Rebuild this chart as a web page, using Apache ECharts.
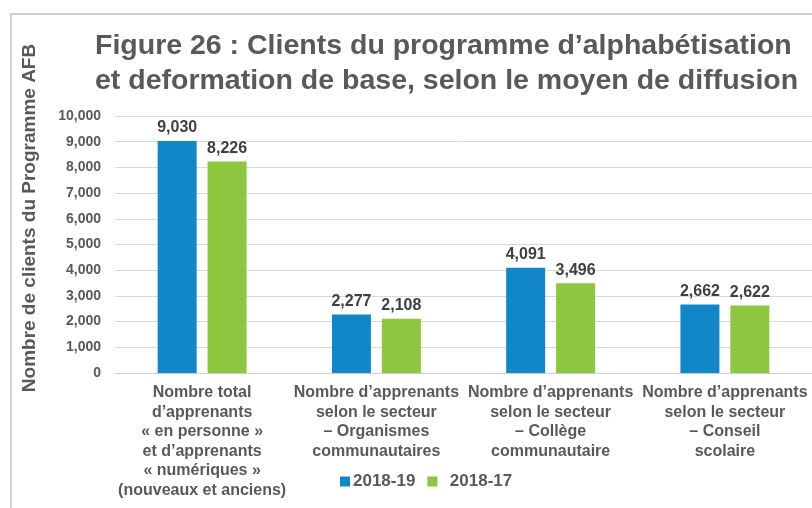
<!DOCTYPE html>
<html>
<head>
<meta charset="utf-8">
<script src="https://cdn.jsdelivr.net/npm/echarts@6/dist/echarts.min.js"></script>
<style>
  html, body { margin: 0; padding: 0; background: #fff; }
  #chart { width: 812px; height: 508px; }
</style>
</head>
<body>
<div id="chart"></div>
<script>
// données
var categories = [
  "Nombre total\nd’apprenants\n« en personne »\net d’apprenants\n« numériques »\n(nouveaux et anciens)",
  "Nombre d’apprenants\nselon le secteur\n– Organismes\ncommunautaires",
  "Nombre d’apprenants\nselon le secteur\n– Collège\ncommunautaire",
  "Nombre d’apprenants\nselon le secteur\n– Conseil\nscolaire"
];
var seriesNames = ["2018-19", "2018-17"];
var values1819 = [9030, 2277, 4091, 2662];
var values1817 = [8226, 2108, 3496, 2622];
var colors = ["#1287c8", "#8dc63f"];

var titleLines = [
  "Figure 26 : Clients du programme d’alphabétisation",
  "et deformation de base, selon le moyen de diffusion"
];
var yName = "Nombre de clients du Programme AFB";

var font = "Liberation Sans, Arial, Helvetica, sans-serif";
var grey = "#595959";

var chart = echarts.init(document.getElementById("chart"));

function barSeries(name, data, color) {
  return {
    name: name,
    type: "bar",
    data: data,
    barWidth: 39,
    barGap: "28%",
    itemStyle: { color: color },
    label: {
      show: true,
      position: "top",
      distance: 5,
      fontFamily: font,
      fontSize: 16,
      fontWeight: "bold",
      color: "#404040",
      formatter: function (p) { return p.value.toLocaleString("en-US"); }
    }
  };
}

chart.setOption({
  animation: false,
  textStyle: { fontFamily: font },
  grid: { left: 115, right: -3, top: 116, bottom: 135 },
  legend: {
    data: seriesNames,
    top: 468,
    left: 335,
    icon: "rect",
    itemWidth: 10,
    itemHeight: 10,
    itemGap: 12,
    formatter: function (n) { return n === seriesNames[1] ? "  " + n : n; },
    textStyle: { fontFamily: font, fontSize: 17, fontWeight: "bold", color: grey, padding: [0, 0, 0, -2] }
  },
  xAxis: {
    type: "category",
    data: categories,
    axisTick: { show: false },
    axisLine: { lineStyle: { color: "#d0d0d0", width: 1 } },
    axisLabel: {
      interval: 0,
      margin: 10,
      fontFamily: font,
      fontSize: 16,
      fontWeight: "bold",
      lineHeight: 19.5,
      color: grey
    }
  },
  yAxis: {
    type: "value",
    min: 0,
    max: 10000,
    interval: 1000,
    axisLine: { show: false },
    axisTick: { show: false },
    splitLine: { lineStyle: { color: "#d9d9d9", width: 1 } },
    axisLabel: {
      margin: 14,
      fontFamily: font,
      fontSize: 14,
      fontWeight: "bold",
      color: grey,
      formatter: function (v) { return v.toLocaleString("en-US"); }
    }
  },
  series: [
    barSeries(seriesNames[0], values1819, colors[0]),
    barSeries(seriesNames[1], values1817, colors[1])
  ],
  graphic: [
    {
      type: "rect",
      silent: true,
      shape: { x: 11, y: 14, width: 900, height: 600 },
      style: { fill: null, stroke: "#d0d0d0", lineWidth: 2 }
    },
    {
      type: "text",
      left: 95,
      top: 29,
      style: {
        text: titleLines.join("\n"),
        font: "bold 28.5px " + font,
        lineHeight: 35,
        fill: grey
      }
    },
    {
      type: "text",
      x: 30,
      y: 218,
      rotation: Math.PI / 2,
      style: {
        text: yName,
        font: "bold 19px " + font,
        fill: grey,
        align: "center",
        verticalAlign: "middle"
      }
    }
  ]
});
</script>
</body>
</html>
